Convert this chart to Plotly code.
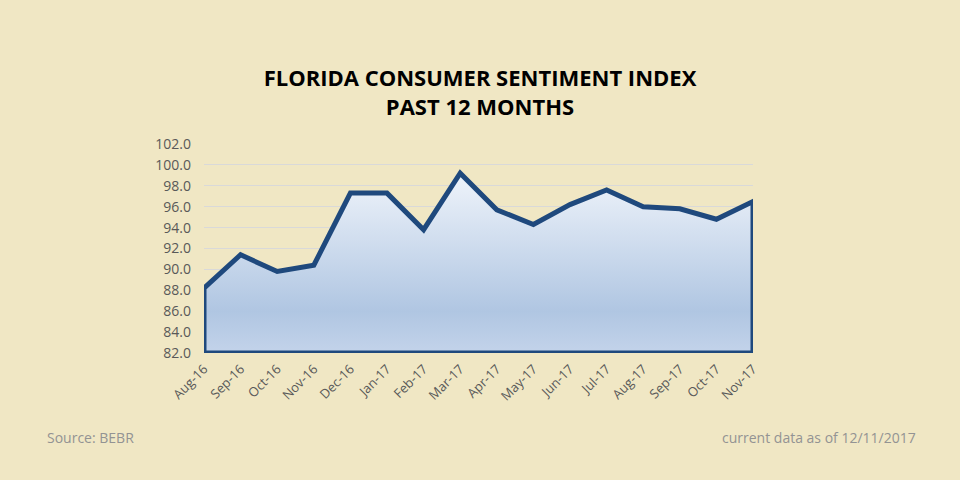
import plotly.graph_objs as go

months = ['Aug-16', 'Sep-16', 'Oct-16', 'Nov-16', 'Dec-16', 'Jan-17', 'Feb-17', 'Mar-17',
          'Apr-17', 'May-17', 'Jun-17', 'Jul-17', 'Aug-17', 'Sep-17', 'Oct-17', 'Nov-17']
sentiment = [88.2, 91.4, 89.8, 90.4, 97.3, 97.3, 93.8, 99.2,
             95.7, 94.3, 96.2, 97.6, 96.0, 95.8, 94.8, 96.5]
y_min, y_max = 82, 102

# plot area in pixels (left, right, top, bottom)
L, R, T, B = 204, 753, 144, 353

# closed outline: data line, then down the right edge, along the floor and back up
xs = list(range(len(months))) + [len(months) - 1, 0, 0]
ys = sentiment + [y_min, y_min, sentiment[0]]

fig = go.Figure(data=[go.Scatter(
    x=xs,
    y=ys,
    mode='lines',
    fill='toself',
    line=dict(color='#1F497D', width=5),
    fillgradient=dict(
        type='vertical',
        start=y_max,
        stop=y_min,
        colorscale=[[0, '#F4F7FD'], [0.15, '#EEF3FA'], [0.8, '#B0C6E2'], [1, '#C3D3EA']],
    ),
    hoverinfo='skip'
)])


def px_x(p):
    return (p - L) / (R - L)


def px_y(p):
    return (B - p) / (B - T)


fig.update_layout(
    title=dict(
        text='<b>FLORIDA CONSUMER SENTIMENT INDEX<br>PAST 12 MONTHS</b>',
        x=0.5, xanchor='center', yref='container', y=1 - 86 / 480, yanchor='middle',
        font=dict(family='Open Sans', size=22, color='#000000')
    ),
    width=960,
    height=480,
    showlegend=False,
    paper_bgcolor='#F0E7C4',
    plot_bgcolor='#F0E7C4',
    margin=dict(l=L, r=960 - R, t=T, b=480 - B),
    font=dict(family='Open Sans', color='#595959'),
    xaxis=dict(
        range=[0, len(months) - 1],
        tickmode='array',
        tickvals=list(range(len(months))),
        ticktext=months,
        tickangle=-45,
        tickfont=dict(size=13),
        ticklabelstandoff=5,
        showgrid=False,
        zeroline=False,
        showline=False,
    ),
    yaxis=dict(
        range=[y_min, y_max],
        dtick=2,
        tickformat='.1f',
        tickfont=dict(size=14),
        gridcolor='#D9D9D9',
        gridwidth=1,
        zeroline=False,
        showline=False,
        ticklabelstandoff=12,
    ),
    annotations=[
        dict(text='Source: BEBR', x=px_x(45), y=px_y(437), xref='paper', yref='paper',
             xanchor='left', yanchor='middle', showarrow=False,
             font=dict(size=14, color='#939393')),
        dict(text='current data as of 12/11/2017', x=px_x(918), y=px_y(437),
             xref='paper', yref='paper', xanchor='right', yanchor='middle', showarrow=False,
             font=dict(size=14, color='#939393')),
    ]
)

fig.write_html('out.html', config={'displayModeBar': False},
               post_script="document.body.style.margin='0';")
